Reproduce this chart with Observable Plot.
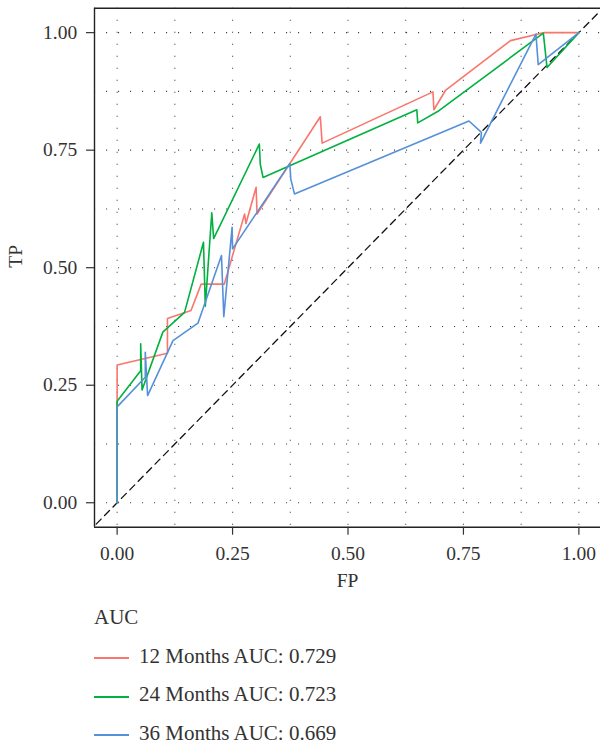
<!DOCTYPE html>
<html>
<head>
<meta charset="utf-8">
<script src="https://cdn.jsdelivr.net/npm/d3@7"></script>
<script src="https://cdn.jsdelivr.net/npm/@observablehq/plot@0.6"></script>
<style>
  html, body { margin: 0; padding: 0; background: #fff; }
  #chart svg { display: block; }
  #legend { font-family: "Liberation Serif", "Times New Roman", serif; font-size: 21px; color: #333; padding-left: 94px; }
  #legend .row { height: 38.7px; line-height: 38.7px; white-space: nowrap; }
  #legend .sw { display: inline-block; width: 35px; height: 2px; vertical-align: middle; margin-right: 10px; }
</style>
</head>
<body>
<div id="chart"></div>
<div id="legend"></div>
<script>
// ---- data ----
const seriesNames = ["12 Months AUC: 0.729", "24 Months AUC: 0.723", "36 Months AUC: 0.669"];
const seriesColors = ["#F8766D", "#00B140", "#5590D8"];
const legendTitle = "AUC";

const fp12 = [0, 0, 0.109, 0.109, 0.160, 0.182, 0.232, 0.276, 0.279, 0.301, 0.303, 0.440, 0.444, 0.684, 0.686, 0.711, 0.852, 0.907, 0.925, 1];
const tp12 = [0, 0.293, 0.318, 0.392, 0.409, 0.465, 0.465, 0.614, 0.594, 0.671, 0.614, 0.821, 0.765, 0.874, 0.836, 0.877, 0.983, 0.996, 1.0, 1];

const fp24 = [0, 0, 0.051, 0.051, 0.054, 0.099, 0.146, 0.187, 0.191, 0.205, 0.209, 0.308, 0.310, 0.316, 0.649, 0.651, 0.697, 0.923, 0.931, 1];
const tp24 = [0, 0.216, 0.281, 0.338, 0.240, 0.363, 0.405, 0.554, 0.418, 0.617, 0.562, 0.763, 0.720, 0.692, 0.836, 0.808, 0.834, 0.999, 0.926, 1];

const fp36 = [0, 0, 0.061, 0.061, 0.066, 0.121, 0.175, 0.226, 0.231, 0.249, 0.250, 0.374, 0.376, 0.384, 0.762, 0.789, 0.787, 0.907, 0.912, 1];
const tp36 = [0, 0.204, 0.267, 0.320, 0.228, 0.345, 0.382, 0.526, 0.396, 0.586, 0.540, 0.722, 0.689, 0.657, 0.812, 0.788, 0.765, 0.997, 0.932, 1];

const majorTicks = [0, 0.25, 0.5, 0.75, 1];
const gridTicks = [0, 0.125, 0.25, 0.375, 0.5, 0.625, 0.75, 0.875, 1];
const diagonal = [-0.1, 1.1];
const xDomain = [-0.049, 1.049];
const yDomain = [-0.052, 1.052];

// ---- build table ----
const rows = [];
[[fp12, tp12], [fp24, tp24], [fp36, tp36]].forEach(([fp, tp], s) => {
  fp.forEach((v, i) => rows.push({series: seriesNames[s], fp: v, tp: tp[i]}));
});

const gridStyle = {stroke: "#000", strokeOpacity: 0.75, strokeWidth: 1.1, strokeDasharray: "1.1,10.9"};
const borderStyle = {stroke: "#222", strokeWidth: 1.4};

const plot = Plot.plot({
  width: 600,
  height: 598,
  marginLeft: 94,
  marginRight: 0,
  marginTop: 7.7,
  marginBottom: 71.3,
  x: {domain: xDomain, range: [94, 601]},
  y: {domain: yDomain, range: [526.7, 7.7]},
  color: {domain: seriesNames, range: seriesColors},
  style: {fontFamily: "'Liberation Serif', 'Times New Roman', serif", fontSize: "19.5px", color: "#333", background: "#fff", overflow: "visible"},
  marks: [
    Plot.ruleX(gridTicks, gridStyle),
    Plot.ruleY(gridTicks, gridStyle),
    Plot.line(diagonal, {x: d => d, y: d => d, stroke: "#111", strokeWidth: 1.3, strokeDasharray: "7,5", clip: true}),
    Plot.line(rows, {x: "fp", y: "tp", z: "series", stroke: "series", strokeWidth: 1.6, strokeLinejoin: "round"}),
    Plot.ruleX([xDomain[0]], borderStyle),
    Plot.ruleY([yDomain[0]], borderStyle),
    Plot.ruleY([yDomain[1]], borderStyle),
    Plot.axisX({ticks: majorTicks, tickFormat: d3.format(".2f"), tickSize: 8, tickPadding: 11, label: null, fontSize: 19.5, strokeWidth: 1.2}),
    Plot.axisY({ticks: majorTicks, tickFormat: d3.format(".2f"), tickSize: 8, tickPadding: 9.3, label: null, fontSize: 19.5, strokeWidth: 1.2}),
    Plot.text(["FP"], {frameAnchor: "bottom", dy: 45.5, lineAnchor: "top", fontSize: 19.5, fill: "#333"}),
    Plot.text(["TP"], {frameAnchor: "left", rotate: -90, dx: -78.5, fontSize: 19.5, fill: "#333"})
  ]
});
document.getElementById("chart").appendChild(plot);

// ---- legend below the chart ----
const legend = d3.select("#legend");
legend.append("div").attr("class", "row").text(legendTitle);
seriesNames.forEach((name, i) => {
  const row = legend.append("div").attr("class", "row");
  row.append("span").attr("class", "sw").style("background", seriesColors[i]);
  row.append("span").text(name);
});
</script>
</body>
</html>
